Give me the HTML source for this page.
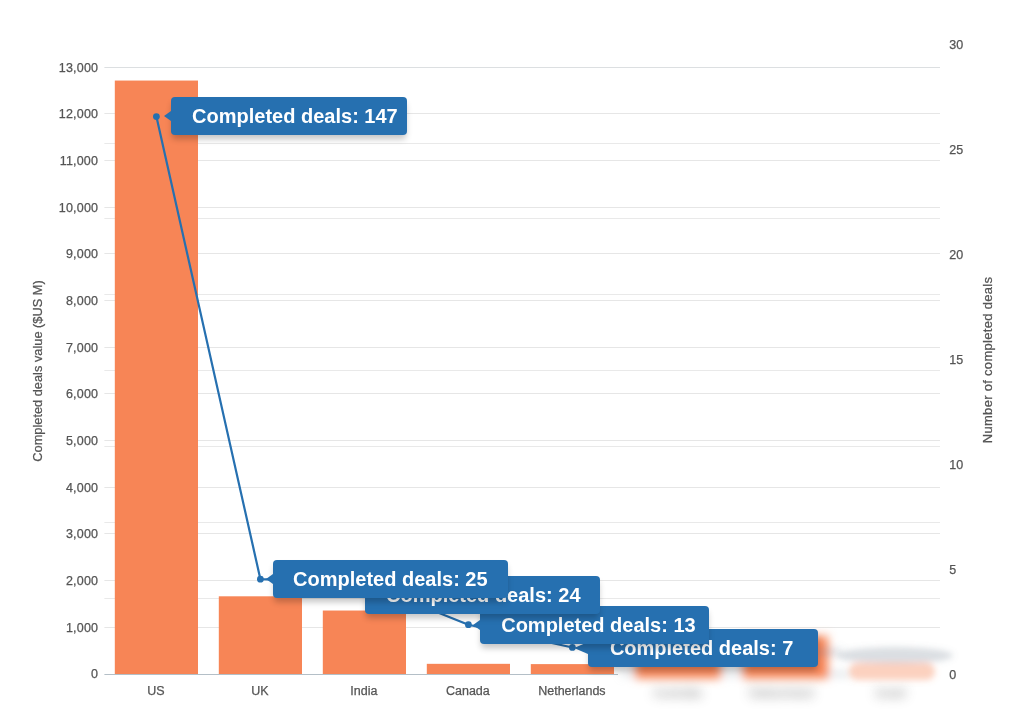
<!DOCTYPE html>
<html lang="en"><head><meta charset="utf-8"><title>Completed deals by country</title>
<style>
html,body{margin:0;padding:0;background:#fff;}
body{width:1024px;height:728px;position:relative;overflow:hidden;font-family:"Liberation Sans",sans-serif;color:#555;}
#chart{position:absolute;left:0;top:0;width:1024px;height:728px;}
.lbl{position:absolute;font-size:12.5px;line-height:14px;height:14px;white-space:nowrap;color:#555;-webkit-text-stroke:.25px #555;}
.yl{text-align:right;width:62px;left:36.2px;letter-spacing:.2px;}
.yr{text-align:left;left:949.3px;}
.xl{text-align:center;width:104px;}
.blur{filter:blur(6px);opacity:.62;}
.title{position:absolute;-webkit-text-stroke:.25px #555;line-height:14px;white-space:nowrap;transform-origin:0 0;transform:rotate(-90deg);text-align:center;width:220px;}
.tip{position:absolute;height:38px;background:#2670B0;border-radius:4px;color:#fff;font-weight:bold;font-size:20px;line-height:38px;white-space:nowrap;box-shadow:0 5px 6px -1px rgba(0,0,0,.23);box-sizing:border-box;}
.tip span{position:absolute;top:0;}
.tip i{position:absolute;left:-7px;top:50%;margin-top:-5px;width:0;height:0;border-top:5px solid transparent;border-bottom:5px solid transparent;border-right:7.5px solid #2670B0;}
</style></head><body>

<svg id="chart" width="1024" height="728" viewBox="0 0 1024 728">
<defs><filter id="bl" x="-30%" y="-200%" width="160%" height="500%"><feGaussianBlur stdDeviation="5"/></filter><filter id="bl3" x="-30%" y="-200%" width="160%" height="500%"><feGaussianBlur stdDeviation="3.2"/></filter></defs>
<line x1="104.4" x2="940.0" y1="598.50" y2="598.50" stroke="#e9e9e9" stroke-width="1"/>
<line x1="104.4" x2="940.0" y1="522.50" y2="522.50" stroke="#e9e9e9" stroke-width="1"/>
<line x1="104.4" x2="940.0" y1="446.50" y2="446.50" stroke="#e9e9e9" stroke-width="1"/>
<line x1="104.4" x2="940.0" y1="370.50" y2="370.50" stroke="#e9e9e9" stroke-width="1"/>
<line x1="104.4" x2="940.0" y1="294.50" y2="294.50" stroke="#e9e9e9" stroke-width="1"/>
<line x1="104.4" x2="940.0" y1="218.50" y2="218.50" stroke="#e9e9e9" stroke-width="1"/>
<line x1="104.4" x2="940.0" y1="143.50" y2="143.50" stroke="#e9e9e9" stroke-width="1"/>
<line x1="104.4" x2="940.0" y1="627.50" y2="627.50" stroke="#e6e6e6" stroke-width="1"/>
<line x1="104.4" x2="940.0" y1="580.50" y2="580.50" stroke="#e6e6e6" stroke-width="1"/>
<line x1="104.4" x2="940.0" y1="533.50" y2="533.50" stroke="#e6e6e6" stroke-width="1"/>
<line x1="104.4" x2="940.0" y1="487.50" y2="487.50" stroke="#e6e6e6" stroke-width="1"/>
<line x1="104.4" x2="940.0" y1="440.50" y2="440.50" stroke="#e6e6e6" stroke-width="1"/>
<line x1="104.4" x2="940.0" y1="393.50" y2="393.50" stroke="#e6e6e6" stroke-width="1"/>
<line x1="104.4" x2="940.0" y1="347.50" y2="347.50" stroke="#e6e6e6" stroke-width="1"/>
<line x1="104.4" x2="940.0" y1="300.50" y2="300.50" stroke="#e6e6e6" stroke-width="1"/>
<line x1="104.4" x2="940.0" y1="253.50" y2="253.50" stroke="#e6e6e6" stroke-width="1"/>
<line x1="104.4" x2="940.0" y1="207.50" y2="207.50" stroke="#e6e6e6" stroke-width="1"/>
<line x1="104.4" x2="940.0" y1="160.50" y2="160.50" stroke="#e6e6e6" stroke-width="1"/>
<line x1="104.4" x2="940.0" y1="113.50" y2="113.50" stroke="#e6e6e6" stroke-width="1"/>
<line x1="104.4" x2="940.0" y1="67.50" y2="67.50" stroke="#dcdfe1" stroke-width="1"/>
<rect x="114.80" y="80.55" width="83.20" height="593.45" fill="#F78556"/>
<rect x="218.80" y="596.30" width="83.20" height="77.70" fill="#F78556"/>
<rect x="322.80" y="610.53" width="83.20" height="63.47" fill="#F78556"/>
<rect x="426.80" y="663.83" width="83.20" height="10.17" fill="#F78556"/>
<rect x="530.80" y="664.11" width="83.20" height="9.89" fill="#F78556"/>
<line x1="104.4" x2="618.0" y1="674.50" y2="674.50" stroke="#b4bfc7" stroke-width="1"/>
<g filter="url(#bl)">
<line x1="622.0" x2="850.0" y1="674.00" y2="674.00" stroke="#aab6bf" stroke-width="2"/>
<rect x="635.5" y="641" width="85" height="37.5" fill="#F78556"/>
<rect x="743" y="636" width="85" height="42.5" fill="#F78556"/>
<rect x="730" y="650" width="110" height="4" fill="#6b7a8c" fill-opacity=".5"/>
</g>
<g filter="url(#bl3)">
<ellipse cx="895" cy="655.5" rx="58" ry="8.5" fill="#6b7a8c" fill-opacity=".25"/>
<rect x="849" y="663" width="86" height="17" rx="8.5" fill="#F78556" fill-opacity=".38"/>
</g>
<polyline fill="none" stroke="#2670B0" stroke-width="2.2" stroke-linejoin="round" points="156.40,116.60 260.40,579.20 364.40,583.00 468.40,624.71 572.40,647.46"/>
<circle cx="156.40" cy="116.60" r="3.4" fill="#2670B0"/>
<circle cx="260.40" cy="579.20" r="3.4" fill="#2670B0"/>
<circle cx="364.40" cy="583.00" r="3.4" fill="#2670B0"/>
<circle cx="468.40" cy="624.71" r="3.4" fill="#2670B0"/>
<circle cx="572.40" cy="647.46" r="3.4" fill="#2670B0"/>
</svg>
<div class="lbl yl" style="top:667.2px">0</div>
<div class="lbl yl" style="top:620.5px">1,000</div>
<div class="lbl yl" style="top:573.9px">2,000</div>
<div class="lbl yl" style="top:527.2px">3,000</div>
<div class="lbl yl" style="top:480.5px">4,000</div>
<div class="lbl yl" style="top:433.9px">5,000</div>
<div class="lbl yl" style="top:387.2px">6,000</div>
<div class="lbl yl" style="top:340.5px">7,000</div>
<div class="lbl yl" style="top:293.8px">8,000</div>
<div class="lbl yl" style="top:247.2px">9,000</div>
<div class="lbl yl" style="top:200.5px">10,000</div>
<div class="lbl yl" style="top:153.8px">11,000</div>
<div class="lbl yl" style="top:107.2px">12,000</div>
<div class="lbl yl" style="top:60.5px">13,000</div>
<div class="lbl yr" style="top:667.8px">0</div>
<div class="lbl yr" style="top:562.9px">5</div>
<div class="lbl yr" style="top:458.0px">10</div>
<div class="lbl yr" style="top:353.1px">15</div>
<div class="lbl yr" style="top:248.2px">20</div>
<div class="lbl yr" style="top:143.3px">25</div>
<div class="lbl yr" style="top:38.4px">30</div>
<div class="lbl xl" style="left:103.9px;top:684.3px">US</div>
<div class="lbl xl" style="left:207.9px;top:684.3px">UK</div>
<div class="lbl xl" style="left:311.9px;top:684.3px">India</div>
<div class="lbl xl" style="left:415.9px;top:684.3px">Canada</div>
<div class="lbl xl" style="left:519.9px;top:684.3px">Netherlands</div>
<div class="lbl xl blur" style="left:625.5px;top:686.2px">Australia</div>
<div class="lbl xl blur" style="left:729.0px;top:686.2px">Switzerland</div>
<div class="lbl xl blur" style="left:838.5px;top:686.2px">Israel</div>
<div class="title" style="left:31px;top:481px;font-size:12.8px">Completed deals value ($US M)</div>
<div class="title" style="left:981.3px;top:470.3px;font-size:13px;letter-spacing:.3px">Number of completed deals</div>
<div class="tip" style="left:170.8px;top:97.0px;width:236.0px;z-index:10"><i></i><span style="left:21.3px">Completed deals: 147</span></div>
<div class="tip" style="left:272.8px;top:560.1px;width:235.2px;z-index:9"><i></i><span style="left:20.3px">Completed deals: 25</span></div>
<div class="tip" style="left:365.0px;top:576.2px;width:235.3px;z-index:8"><span style="left:21.0px">Completed deals: 24</span></div>
<div class="tip" style="left:480.2px;top:606.0px;width:229.3px;z-index:7"><i></i><span style="left:21.0px">Completed deals: 13</span></div>
<div class="tip" style="left:588.4px;top:628.6px;width:229.7px;z-index:6"><i style="left:-14px;border-right-width:14.5px;border-top-width:6px;border-bottom-width:6px;margin-top:-5.5px"></i><span style="left:21.5px">Completed deals: 7</span></div>
</body></html>
